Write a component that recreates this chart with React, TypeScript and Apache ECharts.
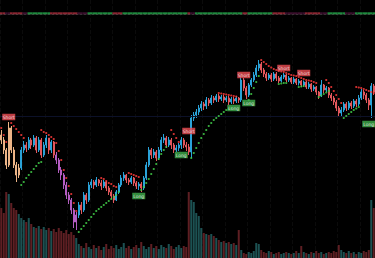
import React, { useEffect, useRef } from "react";
import * as echarts from "echarts";

// ---- price data (open, close, low, high) ----
const opens = [
  165, 160, 150, 135, 172, 150, 135, 125, 132, 150,
  155, 152, 160, 155, 162, 150, 160, 145, 155, 162,
  150, 158, 145, 140, 130, 125, 115, 105, 100, 90,
  78, 85, 95, 90, 105, 100, 115, 118, 115, 120,
  117, 114, 118, 112, 108, 104, 100, 108, 115, 122,
  125, 120, 118, 122, 117, 114, 116, 112, 122, 135,
  150, 145, 148, 142, 150, 160, 162, 155, 160, 155,
  150, 152, 155, 160, 155, 153, 148, 182, 185, 188,
  192, 196, 194, 200, 197, 202, 200, 204, 201, 203,
  200, 202, 198, 201, 199, 202, 200, 220, 212, 205,
  215, 220, 225, 232, 236, 230, 226, 222, 225, 221,
  226, 222, 219, 223, 225, 220, 222, 218, 221, 217,
  219, 215, 218, 213, 216, 211, 213, 208, 204, 215,
  210, 212, 205, 202, 198, 192, 187, 190, 196, 192,
  197, 194, 199, 196, 202, 208, 205, 200, 195, 214,
];
const closes = [
  160, 150, 135, 172, 150, 135, 125, 132, 150, 155,
  152, 160, 155, 162, 150, 160, 145, 155, 162, 150,
  158, 145, 140, 130, 125, 115, 105, 100, 90, 78,
  85, 95, 90, 105, 100, 115, 118, 115, 120, 117,
  114, 118, 112, 108, 104, 100, 108, 115, 122, 125,
  120, 118, 122, 117, 114, 116, 112, 122, 135, 150,
  145, 148, 142, 150, 160, 162, 155, 160, 155, 150,
  152, 155, 160, 155, 153, 148, 182, 185, 188, 192,
  196, 194, 200, 197, 202, 200, 204, 201, 203, 200,
  202, 198, 201, 199, 202, 200, 220, 212, 205, 215,
  220, 225, 232, 236, 230, 226, 222, 225, 221, 226,
  222, 219, 223, 225, 220, 222, 218, 221, 217, 219,
  215, 218, 213, 216, 211, 213, 208, 204, 215, 210,
  212, 205, 202, 198, 192, 187, 190, 196, 192, 197,
  194, 199, 196, 202, 208, 205, 200, 195, 214, 208,
];
const lows = [
  156, 146, 131, 133, 147, 132, 118, 122, 130, 147,
  148, 150, 151, 153, 147, 148, 142, 143, 152, 146,
  147, 142, 136, 127, 120, 111, 101, 96, 86, 72,
  70, 82, 86, 88, 96, 98, 112, 111, 113, 114,
  110, 112, 109, 105, 101, 97, 99, 106, 113, 119,
  117, 115, 116, 114, 111, 110, 108, 110, 120, 133,
  141, 142, 139, 140, 148, 157, 152, 153, 151, 147,
  148, 149, 151, 152, 149, 145, 142, 179, 182, 185,
  189, 190, 191, 194, 195, 197, 198, 198, 199, 197,
  198, 195, 196, 196, 197, 197, 198, 209, 201, 203,
  213, 218, 223, 229, 227, 223, 219, 220, 218, 219,
  219, 217, 217.5, 221, 218, 218, 216, 216, 215, 214.5,
  213, 213.5, 211, 211, 208, 209, 205, 201, 203, 207,
  208, 202, 199, 195, 189, 183, 184, 188, 189, 190,
  191, 192, 193, 194, 200, 201, 197, 190, 182, 205,
];
const highs = [
  170, 163, 152, 178, 174, 153, 138, 136, 153, 159,
  158, 163, 162, 165, 164, 163, 162, 158, 165, 162,
  160, 159, 148, 142, 133, 127, 118, 108, 102, 92,
  88, 98, 98, 108, 107, 118, 121, 120, 123, 121,
  120, 120, 119, 114, 110, 106, 110, 117, 125, 128,
  126, 122, 124, 123, 119, 118, 118, 124, 138, 153,
  152, 151, 150, 153, 163, 166, 164, 163, 162, 157,
  155, 157, 163, 162, 158, 156, 185, 188, 191, 195,
  199, 198, 203, 202, 205, 204, 206, 206, 205, 205,
  204, 204, 203, 203, 204, 203, 223, 222, 214, 217,
  222, 228, 235, 240, 238, 232, 228, 227, 227, 228,
  228, 224, 225, 227, 226, 224, 223, 223, 222, 221,
  220, 219.5, 219, 218, 217, 215, 214, 209, 220, 216,
  214, 213, 207, 204, 200, 194, 193, 198, 198, 199,
  199, 201, 201, 205, 211, 210, 207, 202, 217, 216,
];

// ---- volume ----
const volumes = [
  50, 45, 66, 64, 55, 50, 48, 44, 40, 38,
  36, 40, 34, 31, 30, 32, 29, 31, 28, 30,
  27, 29, 26, 30, 27, 25, 28, 24, 26, 23,
  20, 14, 12, 10, 15, 11, 9, 13, 10, 12,
  8, 11, 14, 9, 12, 10, 13, 9, 11, 15,
  10, 12, 9, 11, 13, 10, 16, 12, 9, 11,
  14, 10, 12, 9, 13, 11, 10, 14, 12, 9,
  11, 13, 10, 12, 11, 66, 58, 56, 45, 42,
  30, 25, 24, 23, 24, 22, 20, 18, 16, 17,
  15, 16, 14, 15, 13, 28, 8, 5, 4, 6,
  5, 7, 15, 14, 8, 6, 5, 7, 6, 4,
  5, 6, 4, 5, 6, 5, 4, 5, 7, 5,
  12, 6, 5, 4, 6, 5, 7, 5, 6, 4,
  5, 6, 5, 7, 6, 13, 8, 6, 5, 7,
  5, 6, 4, 6, 5, 7, 6, 8, 58, 50,
];

// ---- trend stops: [start index, values] ----
const longStops: [number, number[]][] = [
  [8, [115, 118, 122, 125, 128, 131, 134, 137, 138]],
  [31, [68, 71, 74, 77, 80, 83, 86, 89, 91, 93, 95, 97, 99, 101, 103, 105, 108]],
  [56, [110, 113, 117, 121, 126, 131, 136, 141, 146, 150, 153]],
  [76, [142, 147, 152, 157, 162, 166, 170, 174, 177, 180, 182, 184, 186, 188, 190, 191, 192]],
  [99, [200, 206, 212, 218, 224]],
  [111, [216, 216.5, 217, 217]],
  [119, [213, 213.5, 214]],
  [127, [203, 204.5, 206, 207.5, 209]],
  [137, [182, 184, 186, 188, 190, 191.5, 193]],
];
const shortStops: [number, number[]][] = [
  [0, [172, 165, 158]],
  [4, [177, 174, 171, 168, 165, 162]],
  [16, [170, 168, 167, 165, 163, 161, 157, 149, 140, 130, 122, 114, 106, 97, 89]],
  [40, [122, 121, 119, 117, 116, 114, 113]],
  [51, [127, 126, 125, 124, 123]],
  [68, [170, 166, 162, 158]],
  [87, [207, 206.5, 206, 205.5, 205, 204.5, 204, 203.5]],
  [104, [240, 238, 236, 234, 232.5, 231, 230, 229, 228.5, 228, 227, 226, 225, 224.5, 224, 223, 222, 221, 220, 219.5, 219, 218, 217]],
  [130, [220, 217, 213, 209, 205, 201, 197]],
  [142, [213, 212.5, 212, 211, 210, 209, 208, 207]],
];

// ---- signals ----
const signalIndex = [3, 55, 72, 75, 93, 97, 99, 113, 121, 147];
const signalType = ["Short", "Long", "Long", "Short", "Long", "Short", "Long", "Short", "Short", "Long"];
const signalPrice = [183, 104, 145, 169, 192, 225, 197, 232, 227, 176];

// ---- trend strip: [state, count] ----
const stripRuns: [string, number][] = [
  ["S", 2], ["N", 2], ["S", 5], ["N", 2], ["L", 9], ["S", 11], ["N", 4], ["L", 10],
  ["S", 4], ["L", 26], ["S", 1], ["N", 2], ["L", 19], ["S", 2], ["L", 10], ["S", 5],
  ["N", 8], ["S", 6], ["N", 3], ["L", 7], ["N", 4], ["L", 8],
];

const UP = "#2aa2d8";
const DOWN = "#e2575c";
const toneRanges = [
  { from: 0, to: 7, up: "#ecb487", down: "#e58d66" },
  { from: 22, to: 30, up: "#b45cc2", down: "#b04aa6" },
];
const stripColor: Record<string, string> = { L: "#1f8a3e", S: "#8b2632", N: "#3d0f2e" };

export default function App() {
  const ref = useRef<HTMLDivElement>(null);
  useEffect(() => {
    document.body.style.margin = "0";
    document.body.style.background = "#000";
    const chart = echarts.init(ref.current!, undefined, { renderer: "svg" });
    const N = closes.length;
    const cats = closes.map((_, i) => String(i + 1));

    const candleData = closes.map((c, i) => {
      const item: any = { value: [opens[i], c, lows[i], highs[i]] };
      const t = toneRanges.find((r) => i >= r.from && i <= r.to);
      if (t) {
        item.itemStyle = { color: t.up, color0: t.down, borderColor: t.up, borderColor0: t.down };
      }
      return item;
    });

    const toPoints = (segs: [number, number[]][]) => {
      const pts: [number, number][] = [];
      segs.forEach(([s, vals]) => vals.forEach((v, k) => pts.push([s + k, v])));
      return pts;
    };

    const volData = volumes.map((v, i) => ({
      value: v,
      itemStyle: { color: closes[i] >= opens[i] ? "#1c5152" : "#5e1f23" },
    }));

    const strip: string[] = [];
    stripRuns.forEach(([s, n]) => {
      for (let k = 0; k < n; k++) strip.push(s);
    });
    const stripData = strip.slice(0, N).map((s) => ({ value: 1, itemStyle: { color: stripColor[s] } }));

    const sigData = (type: string) =>
      signalIndex
        .map((idx, k) => ({ idx, k }))
        .filter(({ k }) => signalType[k] === type)
        .map(({ idx, k }) => [idx, signalPrice[k]]);

    const labelSeries = (type: string, color: string) => ({
      type: "scatter",
      xAxisIndex: 0,
      yAxisIndex: 0,
      data: sigData(type),
      symbol: "rect",
      symbolSize: [13, 6.5],
      itemStyle: { color },
      z: 10,
      silent: true,
      label: {
        show: true,
        position: "inside",
        formatter: type,
        color: "#ffffff",
        fontSize: 4.5,
        fontFamily: "DejaVu Sans",
      },
    });

    chart.setOption({
      animation: false,
      backgroundColor: "#000000",
      grid: [
        { left: 0, right: 0, top: 0, height: 258 },
        { left: 0, right: 0, top: 188, height: 70 },
        { left: 0, right: 0, top: 12.3, height: 2 },
      ],
      xAxis: [
        {
          type: "category", gridIndex: 0, data: cats, boundaryGap: true,
          axisLine: { show: false }, axisTick: { show: false }, axisLabel: { show: false },
          splitLine: { show: true, interval: 8, lineStyle: { color: "#0b0b0b", type: "dashed", width: 1 } },
        },
        {
          type: "category", gridIndex: 1, data: cats, boundaryGap: true,
          axisLine: { show: false }, axisTick: { show: false }, axisLabel: { show: false }, splitLine: { show: false },
        },
        {
          type: "category", gridIndex: 2, data: cats, boundaryGap: true, offset: 1.2,
          axisLine: { show: true, lineStyle: { color: "#3c3c3c", width: 1, type: [2, 2] } },
          axisTick: { show: false }, axisLabel: { show: false }, splitLine: { show: false },
        },
      ],
      yAxis: [
        { type: "value", gridIndex: 0, min: 42, max: 300, show: false, splitLine: { show: false } },
        { type: "value", gridIndex: 1, min: 0, max: 70, show: false, splitLine: { show: false } },
        { type: "value", gridIndex: 2, min: 0, max: 1, show: false, splitLine: { show: false } },
      ],
      series: [
        {
          type: "bar",
          xAxisIndex: 1,
          yAxisIndex: 1,
          data: volData,
          barCategoryGap: "20%",
          z: 1,
          silent: true,
        },
        {
          type: "candlestick",
          xAxisIndex: 0,
          yAxisIndex: 0,
          data: candleData,
          barWidth: "72%",
          z: 3,
          itemStyle: { color: UP, color0: DOWN, borderColor: UP, borderColor0: DOWN, borderWidth: 1 },
          markLine: {
            silent: true,
            symbol: ["none", "none"],
            label: { show: false },
            lineStyle: { color: "#0c1129", width: 1, type: "solid" },
            data: [{ yAxis: 183.5 }],
          },
        },
        {
          type: "scatter",
          xAxisIndex: 0,
          yAxisIndex: 0,
          data: toPoints(shortStops),
          symbolSize: 2.2,
          itemStyle: { color: "#ff3b3b" },
          z: 5,
          silent: true,
        },
        {
          type: "scatter",
          xAxisIndex: 0,
          yAxisIndex: 0,
          data: toPoints(longStops),
          symbolSize: 2.2,
          itemStyle: { color: "#42d14a" },
          z: 5,
          silent: true,
        },
        labelSeries("Short", "#ee4c52"),
        labelSeries("Long", "#3fae4b"),
        {
          type: "bar",
          xAxisIndex: 2,
          yAxisIndex: 2,
          data: stripData,
          barCategoryGap: 0,
          silent: true,
        },
      ],
    });
    return () => chart.dispose();
  }, []);
  return <div ref={ref} style={{ width: 375, height: 258 }} />;
}
